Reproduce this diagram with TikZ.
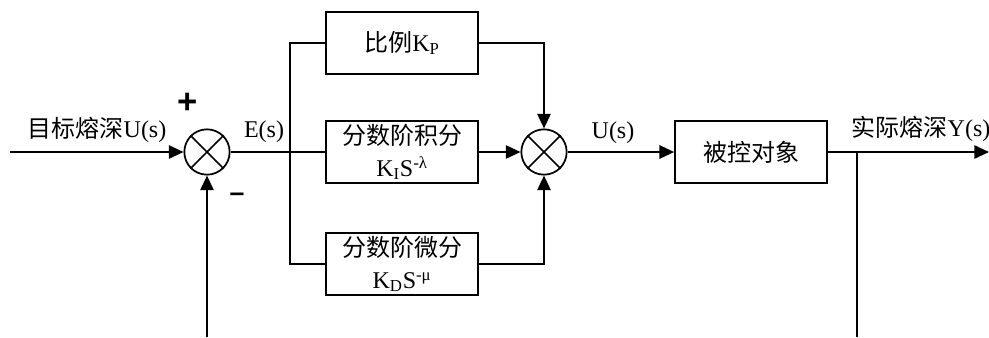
\documentclass[tikz,border=0pt]{standalone}
\usepackage{fontspec}
\setmainfont{Liberation Serif}
\newfontfamily\cjk{Noto Sans CJK SC}
\newfontfamily\signfont{Liberation Sans}
\usetikzlibrary{arrows.meta,positioning}

\begin{document}
\begin{tikzpicture}[x=0.75pt,y=-0.75pt,
  font=\fontsize{18}{24}\selectfont,
  block/.style={rectangle,draw,line width=1.3pt,align=center,inner sep=0pt,
                minimum width=114pt,minimum height=46pt},
  sumnode/.style={circle,draw,line width=1.3pt,minimum size=34pt,inner sep=0pt},
  sig/.style={line width=1.3pt},
  arr/.style={sig,-{Triangle[length=11pt,width=10pt]}},
  pm/.style={font=\signfont\bfseries\fontsize{26}{26}\selectfont}]
\useasboundingbox (0,0) rectangle (989,337);
% summing points and blocks
\node[sumnode] (sum1) at (207,152) {};
\node[block] (kp) at (402,43) {{\cjk 比例}K\textsubscript{P}};
\node[block] (ki) at (402,152) {{\cjk 分数阶积分}\\K\textsubscript{I}S\textsuperscript{-λ}};
\node[block] (kd) at (402,264) {{\cjk 分数阶微分}\\K\textsubscript{D}S\textsuperscript{-μ}};
\node[sumnode] (sum2) at (544,152) {};
\node[block] (plant) at (751,152) {{\cjk 被控对象}};
\foreach \s in {sum1,sum2}{\draw[sig] (\s.45) -- (\s.225) (\s.135) -- (\s.315);}
% free ends
\coordinate (in) at (10,152);
\coordinate (split) at (290,152);
\coordinate (tap) at (857,152);
\coordinate (out) at (989,152);
\coordinate (fbend) at (857,337);
\coordinate (fbin) at (207,337);
% signals
\draw[arr] (in) -- (sum1);
\draw[sig] (sum1) -- (split) -- (ki);
\draw[sig] (kp.west) -- (kp.west -| split) -- (kd.west -| split) -- (kd.west);
\draw[arr] (kp.east) -| (sum2);
\draw[arr] (ki) -- (sum2);
\draw[arr] (kd.east) -| (sum2);
\draw[arr] (sum2) -- (plant);
\draw[arr] (plant) -- (out);
\draw[sig] (tap) -- (fbend);
\draw[arr] (fbin) -- (sum1);
% labels
\node (rlab) at (97,130) {{\cjk 目标熔深}U(s)};
\node (elab) at (264,132) {E(s)};
\node (ulab) at (613,133) {U(s)};
\node (ylab) at (921,129) {{\cjk 实际熔深}Y(s)};
\node[pm] (plus) at (188,103) {+};
\node[pm,font=\signfont\bfseries\fontsize{20}{20}\selectfont] (minus) at (237,197) {–};
\end{tikzpicture}
\end{document}
